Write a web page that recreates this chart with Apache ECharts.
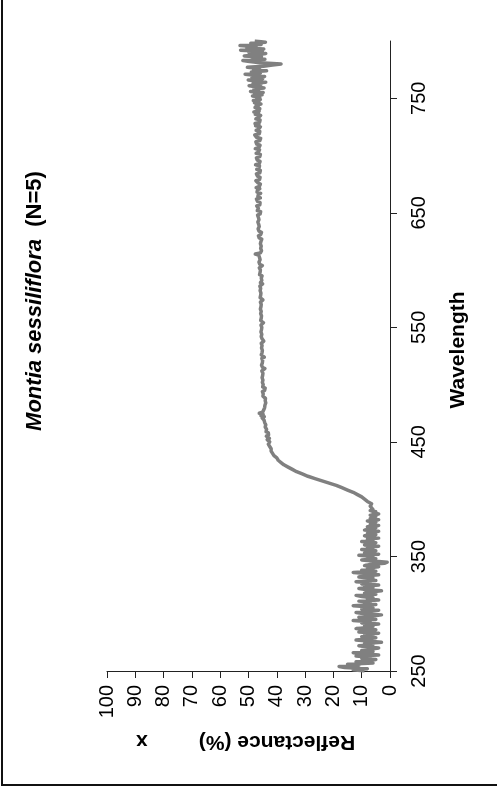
<!DOCTYPE html>
<html>
<head>
<meta charset="utf-8">
<script src="https://cdn.jsdelivr.net/npm/echarts@6/dist/echarts.min.js"></script>
<style>
  html, body { margin: 0; padding: 0; background: #fff; }
  #chart { width: 497px; height: 792px; }
</style>
</head>
<body>
<div id="chart"></div>
<script>
// Mean reflectance spectrum (%), split into wavelength segments.
// Each segment: first wavelength (nm), sampling step (nm), values.

// 250–391 nm, every 1 nm: low, noisy UV region
const uvStart = 250, uvStep = 1;
const uvReflectance = [
  9, 13, 8, 16, 18, 11, 15, 6, 12, 8,
  5, 10, 7, 12, 4, 9, 13, 6, 10, 7,
  4, 8, 11, 6, 9, 3, 7, 12, 8, 5,
  10, 6, 9, 4, 11, 7, 5, 12, 8, 6,
  9, 4, 10, 7, 13, 5, 8, 11, 6, 3,
  9, 12, 7, 4, 10, 6, 8, 13, 5, 9,
  7, 11, 4, 8, 6, 10, 12, 5, 9, 7,
  3, 8, 11, 6, 9, 4, 10, 7, 12, 5,
  8, 6, 11, 9, 4, 7, 13, 5, 10, 6,
  8, 4, 9, 7, 2, 1, 6, 10, 5, 8,
  6, 11, 4, 9, 7, 5, 10, 6, 8, 4,
  9, 7, 5, 10, 6, 8, 4, 7, 9, 5,
  8, 6, 4, 9, 7, 5, 8, 4, 7, 6,
  5, 8, 4, 7, 6, 5, 7, 4, 6, 5,
  7, 6
];

// 392–450 nm, every 2 nm: the rise
const riseStart = 392, riseStep = 2;
const riseReflectance = [
  6, 7, 6.5, 8, 9, 10, 11.5, 13, 15, 17,
  19, 21.5, 24, 26.5, 29, 31, 33, 34.5, 36, 37.5,
  38.5, 39.5, 40, 41, 41.5, 42, 42, 42.5, 43, 42.5
];

// 451–750 nm, every 1 nm: plateau
const plateauStart = 451, plateauStep = 1;
const plateauReflectance = [
  42.8, 43.4, 42.6, 43.2, 43.7, 42.9, 43.5, 43.0, 43.8, 43.2,
  43.6, 43.0, 44.1, 43.4, 43.9, 43.2, 44.3, 43.7, 44.5, 44.0,
  45.2, 44.4, 45.6, 44.8, 46.2, 45.0, 45.5, 44.6, 45.1, 44.3,
  44.9, 44.2, 44.7, 43.9, 44.6, 44.1, 44.8, 44.0, 44.5, 44.9,
  44.2, 44.8, 44.4, 45.1, 44.3, 44.7, 44.1, 45.0, 44.4, 44.8,
  44.2, 45.1, 44.5, 44.9, 44.3, 45.2, 44.6, 45.0, 44.4, 44.9,
  44.5, 45.3, 44.7, 44.2, 45.0, 44.6, 45.4, 44.8, 45.1, 44.5,
  45.0, 44.6, 45.3, 44.4, 45.1, 45.5, 44.9, 45.2, 44.6, 45.1,
  44.7, 45.4, 44.9, 45.2, 44.5, 45.5, 45.0, 44.6, 45.3, 45.2,
  44.8, 45.5, 45.0, 45.3, 44.7, 45.6, 45.1, 45.4, 44.8, 45.3,
  44.9, 45.6, 45.1, 44.7, 45.4, 45.7, 45.2, 45.5, 44.9, 45.4,
  45.0, 45.7, 45.2, 45.5, 44.9, 45.8, 45.3, 45.6, 45.0, 45.5,
  45.1, 45.8, 45.3, 44.9, 45.6, 45.9, 45.4, 45.7, 45.1, 45.6,
  45.2, 45.9, 45.4, 45.7, 45.1, 46.0, 45.5, 45.0, 45.8, 45.7,
  45.3, 46.0, 45.5, 45.8, 45.2, 46.1, 45.6, 45.9, 45.3, 45.8,
  45.4, 46.2, 45.7, 45.1, 46.0, 45.5, 46.3, 45.6, 45.9, 45.3,
  46.1, 45.6, 46.4, 47.6, 45.8, 46.2, 45.4, 46.0, 45.7, 46.3,
  45.5, 46.1, 45.8, 46.4, 45.6, 46.0, 45.3, 46.2, 45.9, 46.5,
  45.7, 46.1, 45.4, 46.3, 45.8, 46.6, 45.9, 46.2, 45.5, 46.4,
  45.8, 46.7, 46.0, 46.3, 45.6, 46.5, 46.1, 46.8, 45.9, 46.4,
  45.7, 46.9, 46.2, 46.5, 45.8, 47.1, 46.0, 46.6, 45.9, 46.8,
  46.3, 47.2, 45.8, 46.7, 46.1, 46.5, 45.7, 47.0, 46.4, 46.8,
  46.0, 47.3, 46.2, 46.9, 45.8, 46.6, 46.3, 47.4, 46.1, 46.7,
  45.9, 46.8, 46.4, 47.2, 46.0, 46.5, 45.8, 47.1, 46.3, 46.9,
  46.1, 47.5, 46.2, 46.7, 45.9, 46.9, 46.4, 47.2, 46.0, 46.6,
  45.8, 47.3, 46.5, 46.9, 46.1, 47.6, 46.3, 46.8, 45.9, 47.1,
  46.4, 47.4, 46.0, 46.7, 45.7, 47.2, 46.6, 47.8, 46.2, 46.9,
  46.0, 47.3, 46.5, 47.0, 45.8, 47.5, 46.3, 47.7, 46.1, 46.8,
  45.9, 47.4, 46.6, 47.1, 45.7, 47.6, 46.4, 48.1, 46.2, 47.0,
  46.0, 47.7, 46.5, 47.3, 45.6, 47.9, 46.3, 48.3, 45.8, 47.2
];

// 751–800 nm, every 1 nm: noisy near-infrared end
const nirStart = 751, nirStep = 1;
const nirReflectance = [
  46.0, 48.6, 45.2, 47.9, 44.8, 49.3, 46.4, 48.1, 44.5, 47.5,
  49.8, 45.6, 48.4, 43.9, 47.2, 50.1, 45.0, 48.8, 44.3, 47.6,
  51.2, 45.8, 49.0, 43.6, 48.2, 46.1, 50.4, 44.7, 41.5, 38.5,
  45.9, 49.6, 52.0, 44.2, 48.7, 45.4, 51.5, 46.8, 43.9, 49.9,
  45.1, 52.8, 44.6, 50.6, 47.3, 53.0, 45.5, 49.2, 44.0, 47.8
];

// Axis ticks
const reflectanceTicks = [0, 10, 20, 30, 40, 50, 60, 70, 80, 90, 100];
const wavelengthTicks = [250, 350, 450, 550, 650, 750];

function toPoints(start, step, values) {
  return values.map((r, i) => [r, start + i * step]);
}

const spectrum = [].concat(
  toPoints(uvStart, uvStep, uvReflectance),
  toPoints(riseStart, riseStep, riseReflectance),
  toPoints(plateauStart, plateauStep, plateauReflectance),
  toPoints(nirStart, nirStep, nirReflectance)
);

const font = '"Liberation Sans", Arial, sans-serif';
const axisColor = '#222';

const chart = echarts.init(document.getElementById('chart'), null, { renderer: 'canvas' });

chart.setOption({
  animation: false,
  backgroundColor: '#fff',
  grid: { left: 107, right: 107, top: 41, bottom: 121, containLabel: false },
  xAxis: {
    type: 'value',
    inverse: true,
    min: 0,
    max: 100,
    interval: 10,
    position: 'bottom',
    splitLine: { show: false },
    axisLine: { show: true, onZero: false, lineStyle: { color: axisColor, width: 1 } },
    axisTick: { show: true, length: 7, customValues: reflectanceTicks, lineStyle: { color: axisColor } },
    axisLabel: {
      rotate: 90, margin: 14, customValues: reflectanceTicks,
      fontFamily: font, fontSize: 20, color: '#000'
    }
  },
  yAxis: {
    type: 'value',
    min: 250,
    max: 800,
    position: 'right',
    splitLine: { show: false },
    axisLine: { show: true, onZero: false, lineStyle: { color: axisColor, width: 1 } },
    axisTick: { show: true, length: 7, customValues: wavelengthTicks, lineStyle: { color: axisColor } },
    axisLabel: {
      rotate: 90, margin: 19, customValues: wavelengthTicks,
      fontFamily: font, fontSize: 20, color: '#000'
    }
  },
  series: [{
    type: 'line',
    data: spectrum,
    showSymbol: false,
    symbol: 'none',
    lineStyle: { color: '#808080', width: 3.5, join: 'round' },
    z: 2
  }],
  graphic: [
    {
      type: 'text', x: 35, y: 301, rotation: Math.PI / 2,
      style: {
        text: '{i|Montia sessiliflora}{b|  (N=5)}',
        textAlign: 'center', textVerticalAlign: 'middle',
        fill: '#000',
        rich: {
          i: { fontFamily: font, fontSize: 22, fontWeight: 'bold', fontStyle: 'italic', fill: '#000' },
          b: { fontFamily: font, fontSize: 22, fontWeight: 'bold', fill: '#000' }
        }
      }
    },
    {
      type: 'text', x: 458, y: 350, rotation: Math.PI / 2,
      style: {
        text: 'Wavelength', textAlign: 'center', textVerticalAlign: 'middle',
        fontFamily: font, fontSize: 21, fontWeight: 'bold', fill: '#000'
      }
    },
    {
      type: 'text', x: 277, y: 742, rotation: Math.PI,
      style: {
        text: 'Reflectance (%)', textAlign: 'center', textVerticalAlign: 'middle',
        fontFamily: font, fontSize: 21, fontWeight: 'bold', fill: '#000'
      }
    },
    {
      type: 'text', x: 142, y: 741, rotation: Math.PI,
      style: {
        text: 'x', textAlign: 'center', textVerticalAlign: 'middle',
        fontFamily: font, fontSize: 21, fontWeight: 'bold', fill: '#000'
      }
    },
    {
      type: 'polyline',
      shape: { points: [[2, 0], [2, 785], [497, 785]] },
      style: { stroke: '#111', lineWidth: 2, fill: null }
    }
  ]
});
</script>
</body>
</html>
